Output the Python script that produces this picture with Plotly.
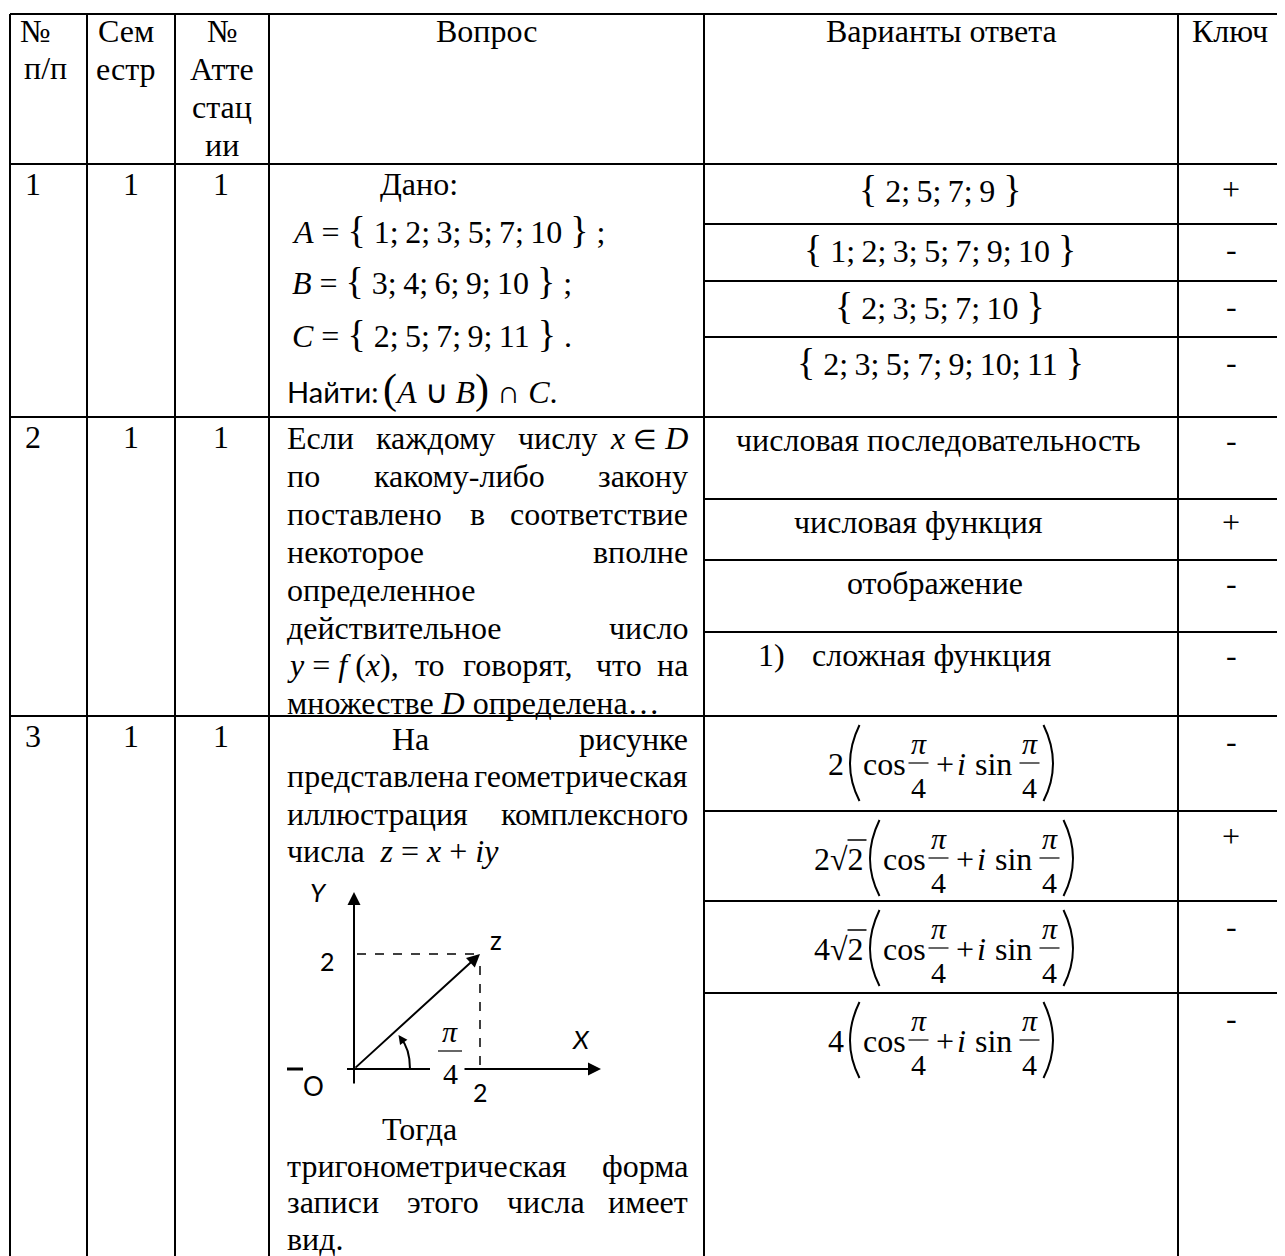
import re
import plotly.graph_objects as go

# ---------------- table content ----------------
header_num = ["№", "п/п"]
header_sem = ["Сем", "естр"]
header_att = ["№", "Атте", "стац", "ии"]
header_question = "Вопрос"
header_answers = "Варианты ответа"
header_key = "Ключ"

row_numbers = ["1", "2", "3"]
semesters = ["1", "1", "1"]
attestations = ["1", "1", "1"]

set_A = [1, 2, 3, 5, 7, 10]
set_B = [3, 4, 6, 9, 10]
set_C = [2, 5, 7, 9, 11]
answers_q1 = [[2, 5, 7, 9], [1, 2, 3, 5, 7, 9, 10], [2, 3, 5, 7, 10], [2, 3, 5, 7, 9, 10, 11]]
keys_q1 = ["+", "-", "-", "-"]

q2_lines = [
    ["Если", "каждому", "числу", "<i>x</i> <span style='font-size:27px'>∈</span> <i>D</i>"],
    ["по", "какому-либо", "закону"],
    ["поставлено", "в", "соответствие"],
    ["некоторое", "вполне"],
    ["определенное"],
    ["действительное", "число"],
    ["<i>y</i> = <i>f</i> (<i>x</i>),", "то", "говорят,", "что", "на"],
    ["множестве <i>D</i> определена…"],
]
answers_q2 = ["числовая последовательность", "числовая функция", "отображение", "сложная функция"]
keys_q2 = ["-", "+", "-", "-"]

q3_lines_top = [
    ["На", "рисунке"],
    ["представлена", "геометрическая"],
    ["иллюстрация", "комплексного"],
    ["числа  <i>z</i> = <i>x</i> + <i>iy</i>"],
]
q3_lines_bottom = [
    ["Тогда"],
    ["тригонометрическая", "форма"],
    ["записи", "этого", "числа", "имеет"],
    ["вид."],
]
z_point = (2, 2)
answers_q3 = ["2", "2√2", "4√2", "4"]
keys_q3 = ["-", "+", "-", "-"]

# ---------------- helpers ----------------
SERIF = "Liberation Serif"
SANS = "Lato"
FS = 32
W = {'а': 444, 'б': 500, 'в': 472, 'г': 410, 'д': 500, 'е': 444, 'ж': 695, 'з': 395, 'и': 535,
     'й': 535, 'к': 486, 'л': 500, 'м': 627, 'н': 535, 'о': 500, 'п': 535, 'р': 500, 'с': 444,
     'т': 437, 'у': 500, 'ф': 648, 'х': 500, 'ц': 535, 'ч': 503, 'ш': 770, 'щ': 770, 'ъ': 500,
     'ы': 688, 'ь': 460, 'э': 437, 'ю': 741, 'я': 480, ' ': 250, ',': 250, '.': 250, ':': 278,
     ';': 278, '-': 333, '(': 333, ')': 333, '=': 564, '+': 564, '∈': 600, '…': 1000,
     'x': 444, 'y': 444, 'f': 278, 'D': 722, 'z': 389, 'i': 278}


def tw(s, size=FS):
    s = re.sub(r"<[^>]+>", "", s)
    return sum(W.get(c, 600) for c in s) * size / 1000.0


fig = go.Figure()
fig.add_trace(go.Scatter(x=[0], y=[0], mode="markers", marker=dict(opacity=0), hoverinfo="skip"))


def txt(x, y, s, size=FS, anchor="center", family=SERIF):
    fig.add_annotation(x=x, y=y, xref="x", yref="y", text=s, showarrow=False,
                       xanchor=anchor, yanchor="middle",
                       font=dict(family=family, size=size, color="black"))


def line(x0, y0, x1, y1, w=2, dash="solid"):
    fig.add_shape(type="line", x0=x0, y0=y0, x1=x1, y1=y1, xref="x", yref="y",
                  line=dict(color="black", width=w, dash=dash))


def arrow(x0, y0, x1, y1, w=2, size=1.3):
    fig.add_annotation(x=x1, y=y1, ax=x0, ay=y0, xref="x", yref="y", axref="x", ayref="y",
                       text="", showarrow=True, arrowhead=2, arrowsize=size, arrowwidth=w,
                       arrowcolor="black", standoff=0, startstandoff=0)


def justify(words, y, x0=285, x1=690):
    if len(words) == 1:
        txt(x0, y, words[0], anchor="left")
        return
    widths = [tw(w) for w in words]
    gap = (x1 - x0 - sum(widths)) / (len(words) - 1)
    x = x0
    for i, (w, wd) in enumerate(zip(words, widths)):
        if i == len(words) - 1:
            txt(x1, y, w, anchor="right")
        else:
            txt(x, y, w, anchor="left")
        x += wd + gap


def brace_set(values):
    big = "<span style='font-size:38px'>{}</span>"
    return big.format("{") + " " + ";\u2009".join(str(v) for v in values) + " " + big.format("}")


# ---------------- grid (table runs past the right and bottom edges) ----------------
cols = [10, 87, 175, 269, 704, 1178]
rows = [14, 164, 417, 716]
sub_rows = [224, 281, 337, 499, 560, 632, 811, 901, 993]
RIGHT, BOTTOM = 1295, 1265
for c in cols:
    line(c, rows[0], c, BOTTOM)
for r in rows:
    line(cols[0], r, RIGHT, r)
for r in sub_rows:
    line(cols[4], r, RIGHT, r)

# ---------------- header ----------------
txt(18, 31, header_num[0], anchor="left")
txt(22, 68, header_num[1], anchor="left")
for i, s in enumerate(header_sem):
    txt(126, 31 + 38 * i, s)
for i, s in enumerate(header_att):
    txt(222, 31 + 38 * i, s)
txt(486, 31, header_question)
txt(941, 31, header_answers)
txt(1230, 31, header_key)

# ---------------- first three columns ----------------
for k in range(3):
    y = rows[k + 1] + 20
    txt(23, y, row_numbers[k], anchor="left")
    txt(131, y, semesters[k])
    txt(221, y, attestations[k])

# ---------------- question 1 ----------------
txt(378, 184, "Дано:", anchor="left")
for y, name, vals, end in [(230, "A", set_A, " ;"), (281, "B", set_B, " ;"), (334, "C", set_C, " .")]:
    txt(290, y, "<i>%s</i> = " % name + brace_set(vals) + end, anchor="left")
txt(285, 391, "Найти:", size=29, anchor="left", family=SANS)
bigp = "<span style='font-size:42px'>%s</span>"
txt(381, 389, bigp % "(" + "<i>A</i> ∪ <i>B</i>" + bigp % ")" + " ∩ <i>C</i>.", anchor="left")

tops_q1 = [164, 224, 281, 337]
for top, vals, key in zip(tops_q1, answers_q1, keys_q1):
    txt(940, top + 25, brace_set(vals))
    txt(1231, top + 25, key)

# ---------------- question 2 ----------------
for i, words in enumerate(q2_lines):
    justify(words, 438 + 37.9 * i)

tops_q2 = [417, 499, 560, 632]
ans_x = [938, 918, 935, None]
for top, ans, key, ax in zip(tops_q2, answers_q2, keys_q2, ans_x):
    if ax is None:
        txt(756, top + 23, "1)", anchor="left")
        txt(810, top + 23, ans, anchor="left")
    else:
        txt(ax, top + 23, ans)
    txt(1231, top + 23, key)

# ---------------- question 3 text ----------------
for i, words in enumerate(q3_lines_top):
    justify(words, 739 + 37.4 * i, x0=390 if i == 0 else 285)
for i, words in enumerate(q3_lines_bottom):
    justify(words, 1129 + 36.6 * i, x0=380 if i == 0 else 285)

# ---------------- question 3 diagram ----------------
ox, oy = 354, 1069
ux, uy = 63, 57.5
zx, zy = ox + z_point[0] * ux, oy - z_point[1] * uy
arrow(ox, oy + 16, ox, oy - 177)                  # Y axis
line(ox - 7, oy, 430, oy, w=2)                     # X axis, left part
arrow(463, oy, 601, oy)                            # X axis, right part
line(287, oy, 303, oy, w=3)                        # dash left of O
line(ox + 3, zy, zx - 2, zy, w=1.5, dash="dash")   # dashed to y = 2
line(zx, zy + 12, zx, oy, w=1.5, dash="dash")      # dashed to x = 2
arrow(ox, oy, zx, zy)                              # vector z
fig.add_shape(type="path", xref="x", yref="y",
              path="M %f,%f Q %f,%f %f,%f" % (ox + 56, oy, ox + 56, oy - 20.4, ox + 46.4, oy - 31.3),
              line=dict(color="black", width=2))
arrow(ox + 49.5, oy - 27, ox + 44.5, oy - 34, w=1.5, size=1.2)
txt(318, 892, "<i>Y</i>", size=26, family=SANS)
txt(327, 961, "2", size=25, family=SANS)
txt(496, 940, "z", size=26, family=SANS)
txt(581, 1039, "<i>X</i>", size=26, family=SANS)
txt(313, 1086, "O", size=26, family=SANS)
txt(zx, 1092, "2", size=25, family=SANS)
txt(450, 1031, "<i>π</i>", size=30)
line(438, 1051, 462, 1051, w=1.2)
txt(450, 1073, "4", size=30)

# ---------------- question 3 answers ----------------
tops_q3 = [716, 811, 901, 993]
for top, pre, key in zip(tops_q3, answers_q3, keys_q3):
    ym = top + 48
    pw = 56 if "√" in pre else 16
    b = 941 - (pw + 5 + 210) / 2 + pw + 5
    txt(b - 1, ym, pre, anchor="right")
    if "√" in pre:
        line(b - 19, ym - 19, b, ym - 19, w=1.5)
    fig.add_shape(type="path", xref="x", yref="y",
                  path="M %f,%f Q %f,%f %f,%f" % (b + 13, ym - 39, b - 6, ym, b + 13, ym + 37),
                  line=dict(color="black", width=2))
    fig.add_shape(type="path", xref="x", yref="y",
                  path="M %f,%f Q %f,%f %f,%f" % (b + 197, ym - 39, b + 216, ym, b + 197, ym + 37),
                  line=dict(color="black", width=2))
    txt(b + 14, ym, "cos", anchor="left")
    txt(b + 98, ym, "+")
    txt(b + 115, ym, "<i>i</i>")
    txt(b + 126, ym, "sin", anchor="left")
    for fc in (b + 72, b + 183):
        txt(fc, ym - 21, "<i>π</i>", size=30)
        line(fc - 10, ym - 1, fc + 10, ym - 1, w=1.2)
        txt(fc, ym + 23, "4", size=30)
    txt(1231, top + 25, key)

# page body has an 8px margin, so the axes are shifted to keep pixel coordinates
fig.update_layout(
    width=1285, height=1256,
    margin=dict(l=0, r=0, t=0, b=0),
    paper_bgcolor="white", plot_bgcolor="white",
    showlegend=False,
    xaxis=dict(range=[8, 1293], visible=False, fixedrange=True),
    yaxis=dict(range=[1264, 8], visible=False, fixedrange=True),
)
fig.write_html("out.html")
